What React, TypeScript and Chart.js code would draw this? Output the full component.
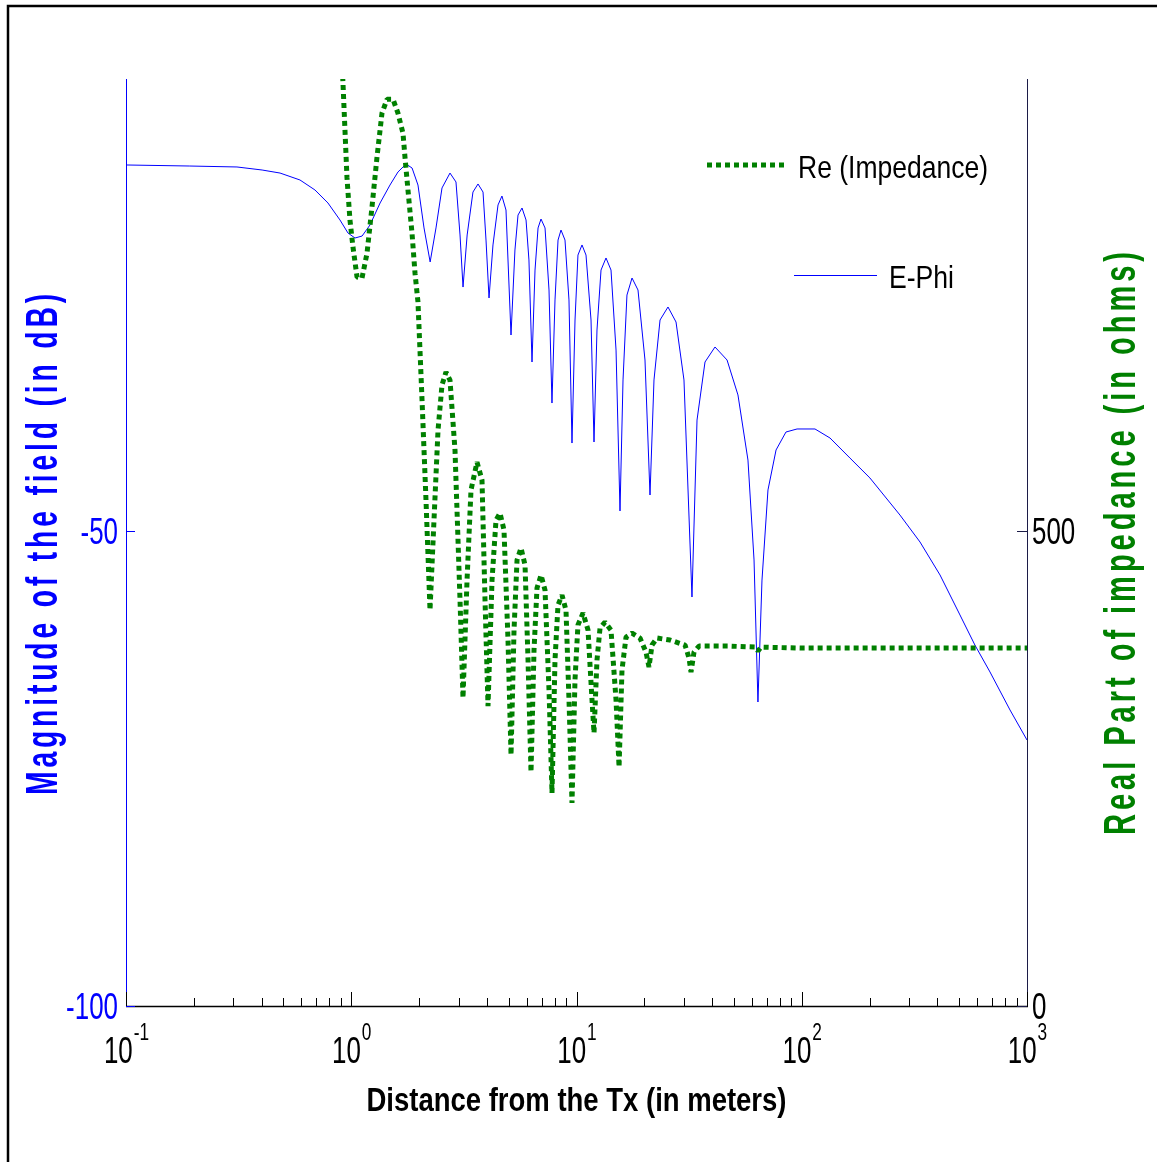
import React, { useEffect, useRef } from "react";
import { Chart, registerables } from "chart.js";

Chart.register(...registerables);

const W = 1157;
const H = 1162;

// E-Phi magnitude (dB) vs distance (m)
const ephiDist = [
  0.1, 0.192, 0.311, 0.402, 0.483, 0.592, 0.69, 0.788, 0.891, 0.967,
  1.039, 1.117, 1.211, 1.343, 1.486, 1.612, 1.75, 1.862, 1.978, 2.104,
  2.24, 2.378, 2.529, 2.744, 2.917, 3.04, 3.135, 3.27, 3.47, 3.654,
  3.846, 3.965, 4.089, 4.258, 4.483, 4.667, 4.864, 5.12, 5.33, 5.5,
  5.73, 5.97, 6.15, 6.346, 6.544, 6.75, 6.957, 7.25, 7.55, 7.783,
  8.027, 8.28, 8.535, 8.89, 9.26, 9.55, 9.85, 10.15, 10.58, 11.02,
  11.6, 11.96, 12.33, 12.85, 13.52, 14.23, 14.98, 15.6, 16.09, 16.75,
  17.64, 18.75, 20.14, 21.2, 22.08, 23.49, 25.48, 27.66, 30.0, 32.56,
  34.28, 37.2, 41.2, 46.6, 52.1, 57.7, 61.4, 63.9, 66.6, 70.8,
  76.9, 85.1, 95.3, 114.5, 133.5, 163.7, 200.8, 272.9, 335, 411,
  504, 587, 685, 840.5, 1000,
];
const ephiDb = [
  -11.47, -11.58, -11.68, -12.0, -12.32, -13.05, -14.1, -15.47, -17.26, -18.63,
  -19.16, -18.95, -17.79, -15.47, -13.58, -12.21, -11.37, -11.79, -13.58, -18.1,
  -21.68, -18.1, -13.89, -12.32, -13.26, -18.84, -24.32, -18.84, -14.32, -13.47,
  -14.32, -19.37, -25.47, -19.89, -15.68, -14.74, -16.21, -29.37, -20.42, -16.74,
  -16.0, -17.26, -21.47, -32.21, -22.53, -18.1, -17.16, -18.1, -24.63, -36.53,
  -25.68, -19.37, -18.32, -19.37, -25.68, -40.74, -27.79, -20.95, -19.89, -20.95,
  -27.79, -40.63, -28.84, -22.53, -21.26, -22.53, -30.95, -47.89, -34.1, -25.16,
  -23.37, -24.63, -32.0, -46.21, -34.1, -27.79, -26.42, -28.0, -34.1, -56.95,
  -38.32, -32.21, -30.63, -32.0, -35.68, -42.53, -53.05, -68.0, -55.16, -45.68,
  -41.47, -39.58, -39.26, -39.26, -40.21, -42.32, -44.42, -48.32, -51.16, -54.63,
  -58.84, -62.0, -64.84, -68.84, -72.0,
];

// Re(Impedance) (ohms) vs distance (m)
const reDist = [
  0.9, 0.919, 0.957, 0.987, 1.018, 1.061, 1.116, 1.175, 1.236, 1.301,
  1.369, 1.441, 1.532, 1.612, 1.697, 1.732, 1.786, 1.861, 1.919, 1.978,
  2.062, 2.147, 2.237, 2.33, 2.428, 2.528, 2.634, 2.744, 2.888, 3.04,
  3.134, 3.266, 3.401, 3.617, 3.806, 3.925, 4.047, 4.217, 4.392, 4.575,
  4.766, 4.965, 5.121, 5.28, 5.445, 5.672, 5.909, 6.093, 6.281, 6.477,
  6.678, 6.957, 7.248, 7.551, 7.785, 8.027, 8.277, 8.622, 8.982, 9.262,
  9.55, 9.847, 10.15, 10.69, 11.25, 11.72, 11.96, 12.33, 12.72, 13.38,
  14.23, 14.98, 15.45, 15.92, 16.59, 17.64, 19.14, 20.35, 20.98, 21.64,
  22.78, 26.01, 30.33, 31.59, 32.24, 33.24, 34.99, 48.03, 62.01, 63.93,
  65.93, 98.2, 1000,
];
const reOhm = [
  1017, 971.6, 872.6, 827.4, 798.9, 767.4, 766.3, 792.6, 841.1, 893.7,
  940.0, 954.7, 954.7, 940.0, 918.9, 893.7, 858.9, 813.7, 771.6, 741.1,
  637.9, 532.6, 416.8, 511.6, 606.3, 653.7, 667.4, 658.9, 585.3, 427.4,
  324.2, 448.4, 543.2, 572.6, 553.7, 427.4, 315.8, 448.4, 511.6, 518.9,
  501.1, 385.3, 264.2, 395.8, 469.5, 482.1, 464.2, 364.2, 246.3, 374.7,
  440.0, 453.7, 437.9, 332.6, 224.2, 364.2, 422.1, 432.6, 416.8, 322.1,
  213.7, 343.2, 401.1, 413.7, 395.8, 322.1, 287.4, 364.2, 397.9, 404.2,
  395.8, 322.1, 251.6, 353.7, 388.4, 392.6, 387.4, 372.6, 356.8, 380.0,
  387.4, 385.3, 380.0, 366.3, 351.6, 372.6, 378.9, 378.9, 377.9, 373.7,
  377.9, 376.8, 376.8,
];

const xTickValues = [0.1, 1, 10, 100, 1000];
const xTickExponents = ["-1", "0", "1", "2", "3"];
const leftTicks = [-50, -100];
const rightTicks = [500, 0];

const xTitle = "Distance from the Tx (in meters)";
const leftTitle = "Magnitude of the field (in dB)";
const rightTitle = "Real Part of impedance (in ohms)";
const legendRe = "Re (Impedance)";
const legendE = "E-Phi";

const FONT = "'Liberation Sans', Arial, Helvetica, sans-serif";
const BLUE = "#0000ff";
const GREEN = "#008000";
const TICK_SX = 0.72;

function drawScaled(ctx: CanvasRenderingContext2D, text: string, x: number, y: number, font: string, color: string, sx: number, align: string) {
  ctx.save();
  ctx.font = font;
  ctx.fillStyle = color;
  ctx.textBaseline = "alphabetic";
  ctx.textAlign = "left";
  const w = ctx.measureText(text).width * sx;
  const left = align === "right" ? x - w : align === "center" ? x - w / 2 : x;
  ctx.translate(left, y);
  ctx.scale(sx, 1);
  ctx.fillText(text, 0, 0);
  ctx.restore();
}

function drawFit(ctx: CanvasRenderingContext2D, text: string, x: number, y: number, font: string, color: string, targetW: number, rot: number, spacing: number, align: string) {
  ctx.save();
  ctx.font = font;
  (ctx as any).letterSpacing = spacing + "px";
  ctx.fillStyle = color;
  ctx.textBaseline = "alphabetic";
  ctx.textAlign = align as CanvasTextAlign;
  const w = ctx.measureText(text).width;
  const sx = targetW / w;
  ctx.translate(x, y);
  ctx.rotate(rot);
  ctx.scale(sx, 1);
  ctx.fillText(text, 0, 0);
  ctx.restore();
}

const decor = {
  id: "decor",
  afterDraw(chart: any) {
    const { ctx, chartArea: a, scales } = chart;
    const xs = scales.x;
    const yl = scales.y;
    const yr = scales.y1;
    ctx.save();

    // figure border
    ctx.strokeStyle = "#000";
    ctx.lineWidth = 2.5;
    ctx.beginPath();
    ctx.moveTo(8, H + 5);
    ctx.lineTo(8, 6);
    ctx.lineTo(W + 5, 6);
    ctx.stroke();

    const line = (x1: number, y1: number, x2: number, y2: number) => {
      ctx.beginPath();
      ctx.moveTo(x1, y1);
      ctx.lineTo(x2, y2);
      ctx.stroke();
    };

    // axes lines
    ctx.lineWidth = 1;
    ctx.strokeStyle = BLUE;
    line(a.left + 0.5, a.top, a.left + 0.5, a.bottom + 1);
    ctx.strokeStyle = "#1c1c48";
    line(a.right + 0.5, a.top, a.right + 0.5, a.bottom + 1);
    ctx.strokeStyle = "#000";
    ctx.lineWidth = 1.3;
    line(a.left, a.bottom + 0.5, a.right + 1, a.bottom + 0.5);

    // x ticks (inward)
    ctx.lineWidth = 1;
    ctx.strokeStyle = "#000";
    for (let d = 0; d < xTickValues.length; d++) {
      const base = xTickValues[d];
      const px = Math.round(xs.getPixelForValue(base)) + 0.5;
      line(px, a.bottom, px, a.bottom - 14);
      if (d < xTickValues.length - 1) {
        for (let m = 2; m <= 9; m++) {
          const p = Math.round(xs.getPixelForValue(base * m)) + 0.5;
          line(p, a.bottom, p, a.bottom - 8);
        }
      }
    }

    // left ticks
    ctx.strokeStyle = BLUE;
    for (const v of leftTicks) {
      const py = Math.round(yl.getPixelForValue(v)) + 0.5;
      line(a.left, py, a.left + 9, py);
    }
    // right ticks
    ctx.strokeStyle = "#1c1c48";
    for (const v of rightTicks) {
      const py = Math.round(yr.getPixelForValue(v)) + 0.5;
      line(a.right, py, a.right - 10, py);
    }

    // tick labels
    const baseFont = `36px ${FONT}`;
    const supFont = `24px ${FONT}`;
    for (let i = 0; i < xTickValues.length; i++) {
      const px = xs.getPixelForValue(xTickValues[i]);
      ctx.font = baseFont;
      const wb = ctx.measureText("10").width * TICK_SX;
      ctx.font = supFont;
      const ws = ctx.measureText(xTickExponents[i]).width * TICK_SX;
      const left = px - (wb + ws) / 2;
      drawScaled(ctx, "10", left, a.bottom + 57, baseFont, "#000", TICK_SX, "left");
      drawScaled(ctx, xTickExponents[i], left + wb + 1, a.bottom + 34, supFont, "#000", TICK_SX, "left");
    }
    for (const v of leftTicks) {
      const py = yl.getPixelForValue(v);
      drawScaled(ctx, String(v), a.left - 8, py + 13, baseFont, BLUE, TICK_SX, "right");
    }
    for (const v of rightTicks) {
      const py = yr.getPixelForValue(v);
      drawScaled(ctx, String(v), a.right + 5, py + 13, baseFont, "#000", TICK_SX, "left");
    }

    // axis titles
    drawFit(ctx, xTitle, (a.left + a.right) / 2, 1111, `bold 34px ${FONT}`, "#000", 420, 0, 0, "center");
    drawFit(ctx, leftTitle, 57, (a.top + a.bottom) / 2, `bold 44px ${FONT}`, BLUE, 505, -Math.PI / 2, 6, "center");
    drawFit(ctx, rightTitle, 1135, (a.top + a.bottom) / 2 - 1, `bold 44px ${FONT}`, GREEN, 587, -Math.PI / 2, 6, "center");

    // legends
    ctx.save();
    ctx.strokeStyle = GREEN;
    ctx.lineWidth = 5;
    ctx.setLineDash([5, 4]);
    line(707, 165, 788, 165);
    ctx.restore();
    ctx.strokeStyle = BLUE;
    ctx.lineWidth = 1;
    line(794, 275.5, 877, 275.5);
    drawFit(ctx, legendRe, 798, 178, `32px ${FONT}`, "#000", 190, 0, 0, "left");
    drawFit(ctx, legendE, 889, 288, `32px ${FONT}`, "#000", 65, 0, 0, "left");

    ctx.restore();
  },
};

export default function App() {
  const ref = useRef<HTMLCanvasElement>(null);
  useEffect(() => {
    const chart = new Chart(ref.current as HTMLCanvasElement, {
      type: "line",
      data: {
        datasets: [
          {
            label: legendRe,
            data: reDist.map((d, i) => ({ x: d, y: reOhm[i] })),
            yAxisID: "y1",
            borderColor: GREEN,
            borderWidth: 5,
            borderDash: [5, 4],
            borderCapStyle: "butt",
            borderJoinStyle: "bevel",
            pointRadius: 0,
            tension: 0,
            fill: false,
            clip: 0,
          } as any,
          {
            label: legendE,
            data: ephiDist.map((d, i) => ({ x: d, y: ephiDb[i] })),
            yAxisID: "y",
            borderColor: BLUE,
            borderWidth: 1,
            pointRadius: 0,
            tension: 0,
            fill: false,
            clip: 0,
          } as any,
        ],
      },
      options: {
        responsive: false,
        animation: false,
        devicePixelRatio: 1,
        events: [],
        layout: { padding: { left: 126, top: 79, right: W - 1027, bottom: H - 1006 } },
        plugins: { legend: { display: false }, tooltip: { enabled: false }, title: { display: false } },
        scales: {
          x: { type: "logarithmic", min: 0.1, max: 1000, display: false },
          y: { type: "linear", min: -100, max: -2.42, display: false },
          y1: { type: "linear", min: 0, max: 976, display: false, position: "right" },
        },
      } as any,
      plugins: [decor],
    });
    return () => chart.destroy();
  }, []);
  return (
    <div style={{ position: "absolute", left: 0, top: 0, width: W, height: H, background: "#fff", overflow: "hidden" }}>
      <canvas ref={ref} width={W} height={H} style={{ display: "block" }} />
    </div>
  );
}
